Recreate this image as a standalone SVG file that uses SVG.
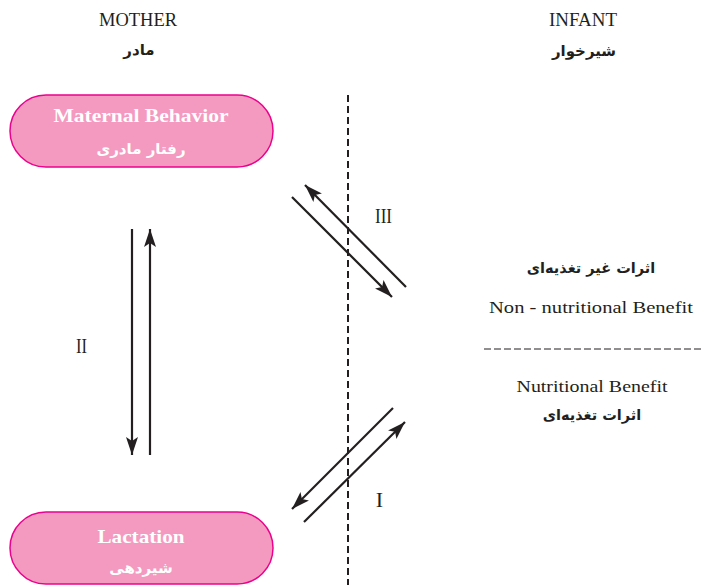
<svg xmlns="http://www.w3.org/2000/svg" width="704" height="585" viewBox="0 0 704 585">
<defs>
<marker id="ah" markerUnits="userSpaceOnUse" markerWidth="20" markerHeight="14" refX="18" refY="6" orient="auto">
<path d="M0,0 L18,6 L0,12 L4,6 z" fill="#231f20"/>
</marker>
<style>
.box{fill:#f49ac1;stroke:#ec008c;stroke-width:1.5}
.en{font-family:"Liberation Serif","DejaVu Serif",serif;fill:#231f20;text-anchor:middle}
.fa{font-family:"DejaVu Sans","Noto Sans",sans-serif;fill:#231f20;text-anchor:middle}
.b{font-weight:bold}
.wen{font-family:"Liberation Serif","DejaVu Serif",serif;font-weight:bold;fill:#fff;text-anchor:middle;font-size:19px}
.wfa{font-family:"DejaVu Sans","Noto Sans",sans-serif;font-weight:bold;fill:#fff;text-anchor:middle;font-size:15px}
.arr{stroke:#231f20;stroke-width:2.2;fill:none;marker-end:url(#ah)}
</style>
</defs>
<rect width="704" height="585" fill="#fff"/>
<g id="headers">
<text class="en" x="138" y="26" font-size="19" textLength="78" lengthAdjust="spacingAndGlyphs">MOTHER</text>
<text class="fa b" x="139" y="55" font-size="15" direction="rtl">مادر</text>
<text class="en" x="583" y="26" font-size="19" textLength="68" lengthAdjust="spacingAndGlyphs">INFANT</text>
<text class="fa b" x="584" y="56" font-size="15" direction="rtl">شیرخوار</text>
</g>
<g id="maternal">
<rect class="box" x="10" y="95" width="263" height="72" rx="36" ry="36"/>
<text class="wen" x="141" y="122" textLength="175" lengthAdjust="spacingAndGlyphs">Maternal Behavior</text>
<text class="wfa" x="141" y="154" direction="rtl">رفتار مادری</text>
</g>
<g id="lactation">
<rect class="box" x="10" y="512" width="263" height="72" rx="36" ry="36"/>
<text class="wen" x="141" y="543" textLength="87" lengthAdjust="spacingAndGlyphs">Lactation</text>
<text class="wfa" x="141" y="573" direction="rtl">شیردهی</text>
</g>
<g id="infant-labels">
<text class="fa b" x="591" y="273" font-size="14.5" direction="rtl">اثرات غیر تغذیه‌ای</text>
<text class="en" x="591" y="313" font-size="16" textLength="204" lengthAdjust="spacingAndGlyphs">Non - nutritional Benefit</text>
<line x1="484" y1="349" x2="704" y2="349" stroke="#231f20" stroke-width="1" stroke-dasharray="7,3"/>
<text class="en" x="592" y="392" font-size="16" textLength="151" lengthAdjust="spacingAndGlyphs">Nutritional Benefit</text>
<text class="fa b" x="592" y="420" font-size="14.5" direction="rtl">اثرات تغذیه‌ای</text>
</g>
<g id="connectors">
<line x1="348" y1="95" x2="348" y2="585" stroke="#231f20" stroke-width="2" stroke-dasharray="7,4"/>
<line class="arr" x1="132" y1="229" x2="132" y2="455"/>
<line class="arr" x1="150" y1="455" x2="150" y2="229"/>
<line class="arr" x1="292" y1="197" x2="392" y2="297"/>
<line class="arr" x1="406" y1="287" x2="305" y2="185"/>
<line class="arr" x1="393" y1="408" x2="292" y2="509"/>
<line class="arr" x1="304" y1="522" x2="405" y2="422"/>
<text class="en" x="383.5" y="223" font-size="22" textLength="17" lengthAdjust="spacingAndGlyphs">III</text>
<text class="en" x="379.5" y="507" font-size="22">I</text>
<text class="en" x="81.5" y="353" font-size="22" textLength="11" lengthAdjust="spacingAndGlyphs">II</text>
</g>
</svg>
